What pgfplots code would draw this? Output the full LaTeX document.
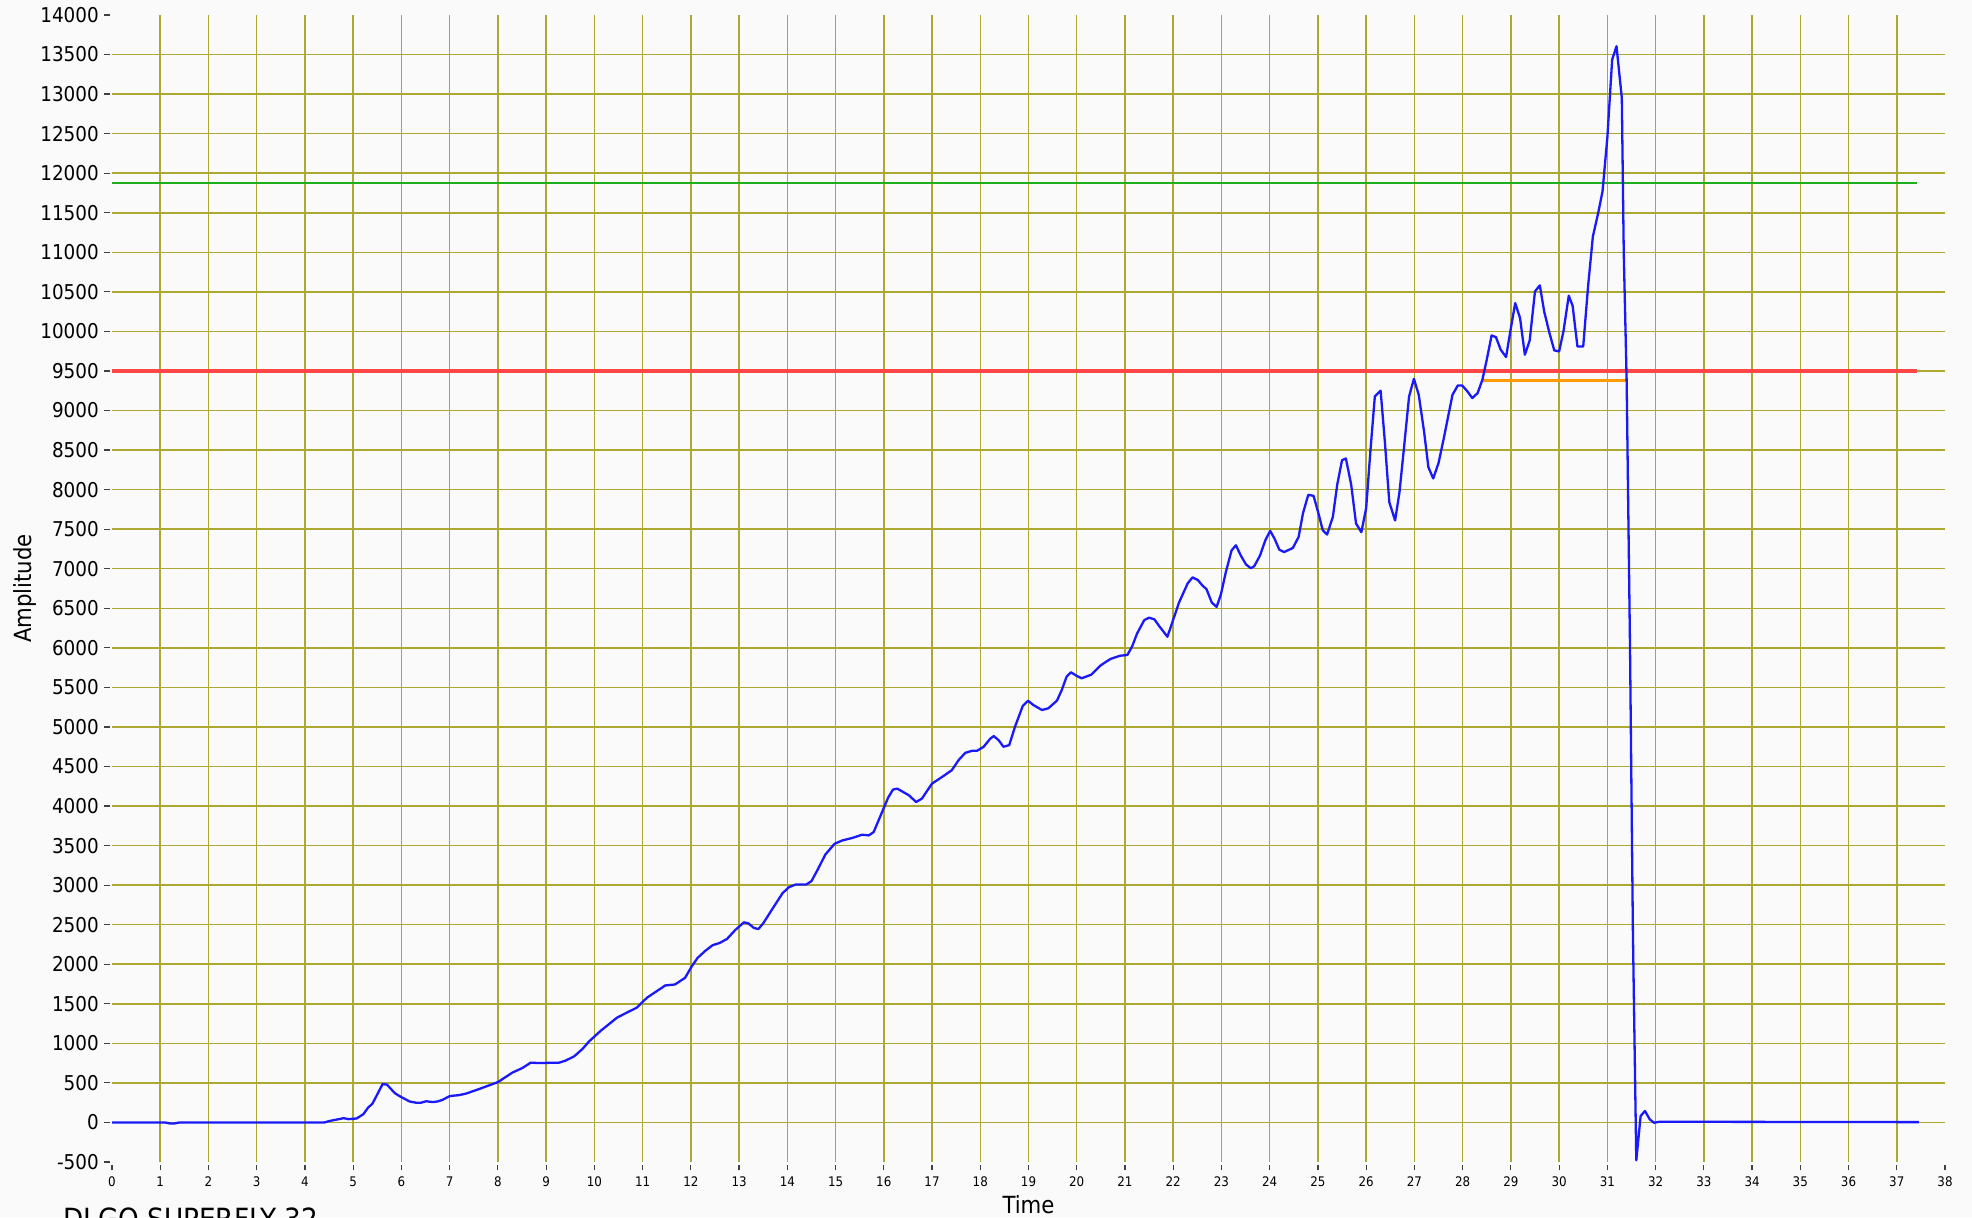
\documentclass[border=0pt]{standalone}
\usepackage{fontspec}
\setmainfont{DejaVu Sans Condensed}
\usepackage{pgfplots}
\pgfplotsset{compat=1.18}
\definecolor{bgc}{RGB}{250,250,250}
\definecolor{gridc}{RGB}{172,168,48}
\definecolor{curvec}{RGB}{25,25,250}
\definecolor{redc}{RGB}{255,70,70}
\definecolor{greenc}{RGB}{30,175,30}
\definecolor{orangec}{RGB}{255,155,0}
\begin{document}
\begin{tikzpicture}
\fill[bgc] (-56pt,-27.5pt) rectangle (930pt,581pt);
\begin{axis}[
  at={(0,0)}, anchor=south west,
  scale only axis, width=916.5pt, height=573.5pt,
  xmin=0, xmax=38, ymin=-500, ymax=14000,
  xtick={0,1,...,38}, ytick={-500,0,...,14000},
  xticklabels={0,1,2,3,4,5,6,7,8,9,10,11,12,13,14,15,16,17,18,19,20,21,22,23,24,25,26,27,28,29,30,31,32,33,34,35,36,37,38},
  yticklabels={-500,0,500,1000,1500,2000,2500,3000,3500,4000,4500,5000,5500,6000,6500,7000,7500,8000,8500,9000,9500,10000,10500,11000,11500,12000,12500,13000,13500,14000},
  xtick pos=bottom, ytick pos=left,
  tick align=outside, major tick length=2.6pt,
  tick style={black!75, line width=0.6pt},
  x tick style={yshift=-1.6pt},
  y tick style={xshift=-1.2pt},
  axis line style={draw=none},
  extra x ticks={1,2,...,37},
  extra y ticks={0,500,...,13500},
  extra x tick labels={}, extra y tick labels={},
  extra tick style={grid=major, major tick length=0pt, tick style={draw=none}},
  major grid style={gridc, line width=0.75pt},
  xticklabel style={font=\fontsize{6.6}{7}\selectfont, yshift=-1.2pt},
  yticklabel style={font=\fontsize{10.2}{11}\selectfont, xshift=-0.5pt},
  xlabel={Time}, ylabel={Amplitude},
  xlabel style={at={(axis description cs:0.5,0)}, anchor=base, yshift=-25.5pt, font=\fontsize{11.8}{13}\selectfont},
  ylabel style={at={([xshift=-40pt]axis description cs:0,0.5)}, anchor=base, font=\fontsize{11.8}{13}\selectfont},
  clip=false,
]
\addplot[redc, line width=1.8pt] coordinates {(0,9500) (37.41,9500)};
\addplot[greenc, line width=1.05pt] coordinates {(0,11875) (37.41,11875)};
\addplot[orangec, line width=1.6pt] coordinates {(28.40,9375) (31.41,9375)};
\addplot[curvec, line width=1.15pt, line join=round] coordinates {
(0,0) (1.1,0) (1.2,-12) (1.3,-12) (1.4,0) (4.4,0) (4.52,20) (4.80,54) (4.90,42) (5.07,50)
(5.21,104) (5.31,188) (5.40,238) (5.61,485) (5.70,478) (5.86,372) (5.96,333) (6.17,265)
(6.3,250) (6.41,250) (6.51,268) (6.65,258) (6.75,265) (6.85,285) (7.0,333) (7.2,346)
(7.34,365) (7.6,420) (8.0,510) (8.30,630) (8.51,689) (8.68,756) (8.85,751) (9.27,756)
(9.40,781) (9.58,835) (9.75,927) (9.89,1024) (10.13,1158) (10.47,1325) (10.71,1400)
(10.88,1451) (11.09,1577) (11.47,1732) (11.67,1744) (11.88,1828) (12.02,1975) (12.14,2080)
(12.30,2170) (12.45,2240) (12.60,2270) (12.75,2320) (12.92,2432) (13.10,2530) (13.19,2517)
(13.31,2458) (13.40,2445) (13.50,2517) (13.69,2699) (13.90,2897) (14.03,2973) (14.17,3007)
(14.39,3007) (14.50,3050) (14.62,3185) (14.79,3388) (14.98,3523) (15.14,3565) (15.34,3595)
(15.55,3637) (15.69,3629) (15.79,3671) (15.95,3903) (16.09,4106) (16.19,4208) (16.28,4220)
(16.52,4136) (16.67,4051) (16.79,4094) (17.0,4284) (17.21,4368) (17.41,4453) (17.55,4580)
(17.69,4673) (17.83,4698) (17.93,4698) (18.07,4749) (18.21,4854) (18.28,4884) (18.38,4833)
(18.48,4749) (18.60,4770) (18.72,5002) (18.88,5264) (18.99,5332) (19.10,5277) (19.28,5214)
(19.41,5235) (19.59,5332) (19.69,5467) (19.79,5636) (19.88,5691) (20.0,5645) (20.1,5615)
(20.3,5660) (20.5,5780) (20.7,5860) (20.9,5900) (21.05,5910) (21.15,6020) (21.25,6180)
(21.40,6351) (21.50,6381) (21.61,6360) (21.71,6274) (21.78,6219) (21.88,6140) (21.99,6338)
(22.12,6572) (22.30,6815) (22.40,6891) (22.51,6857) (22.61,6785) (22.69,6742) (22.80,6572)
(22.90,6517) (22.99,6679) (23.09,6955) (23.21,7232) (23.30,7296) (23.40,7168) (23.51,7053)
(23.61,7006) (23.68,7032) (23.80,7168) (23.91,7360) (24.01,7479) (24.10,7381) (24.20,7240)
(24.30,7211) (24.48,7262) (24.60,7402) (24.69,7700) (24.80,7934) (24.91,7921) (25.02,7679)
(25.10,7487) (25.19,7432) (25.31,7657) (25.40,8062) (25.50,8372) (25.58,8393) (25.69,8062)
(25.79,7572) (25.90,7462) (26.0,7766) (26.09,8503) (26.18,9178) (26.30,9250) (26.39,8588)
(26.48,7841) (26.60,7610) (26.69,7964) (26.78,8503) (26.89,9178) (26.99,9401) (27.09,9199)
(27.20,8735) (27.29,8284) (27.39,8141) (27.50,8335) (27.61,8651) (27.79,9199) (27.90,9317)
(27.99,9317) (28.10,9241) (28.20,9157) (28.31,9220) (28.41,9389) (28.50,9642) (28.60,9949)
(28.69,9928) (28.79,9768) (28.90,9676) (29.0,10042) (29.09,10358) (29.19,10169) (29.29,9705)
(29.39,9886) (29.50,10506) (29.60,10582) (29.69,10253) (29.80,9979) (29.90,9760) (30.0,9747)
(30.09,10000) (30.20,10451) (30.28,10325) (30.38,9810) (30.50,9810) (30.60,10567) (30.70,11200)
(30.81,11496) (30.90,11770) (31.0,12450) (31.10,13436) (31.19,13605) (31.30,12951) (31.34,11000)
(31.40,9380) (31.47,6000) (31.53,2400) (31.60,-479) (31.69,81) (31.78,145) (31.88,38)
(31.97,-4) (32.08,9) (37.46,4)
};
\end{axis}
\node[anchor=north west, inner sep=0pt, font=\fontsize{14.6}{16}\selectfont] at (-24.5pt,-22.5pt) {DLGO SUPERFLY 32};
\pgfresetboundingbox
\path[use as bounding box] (-56pt,-27.5pt) rectangle (930pt,581pt);
\end{tikzpicture}
\end{document}
